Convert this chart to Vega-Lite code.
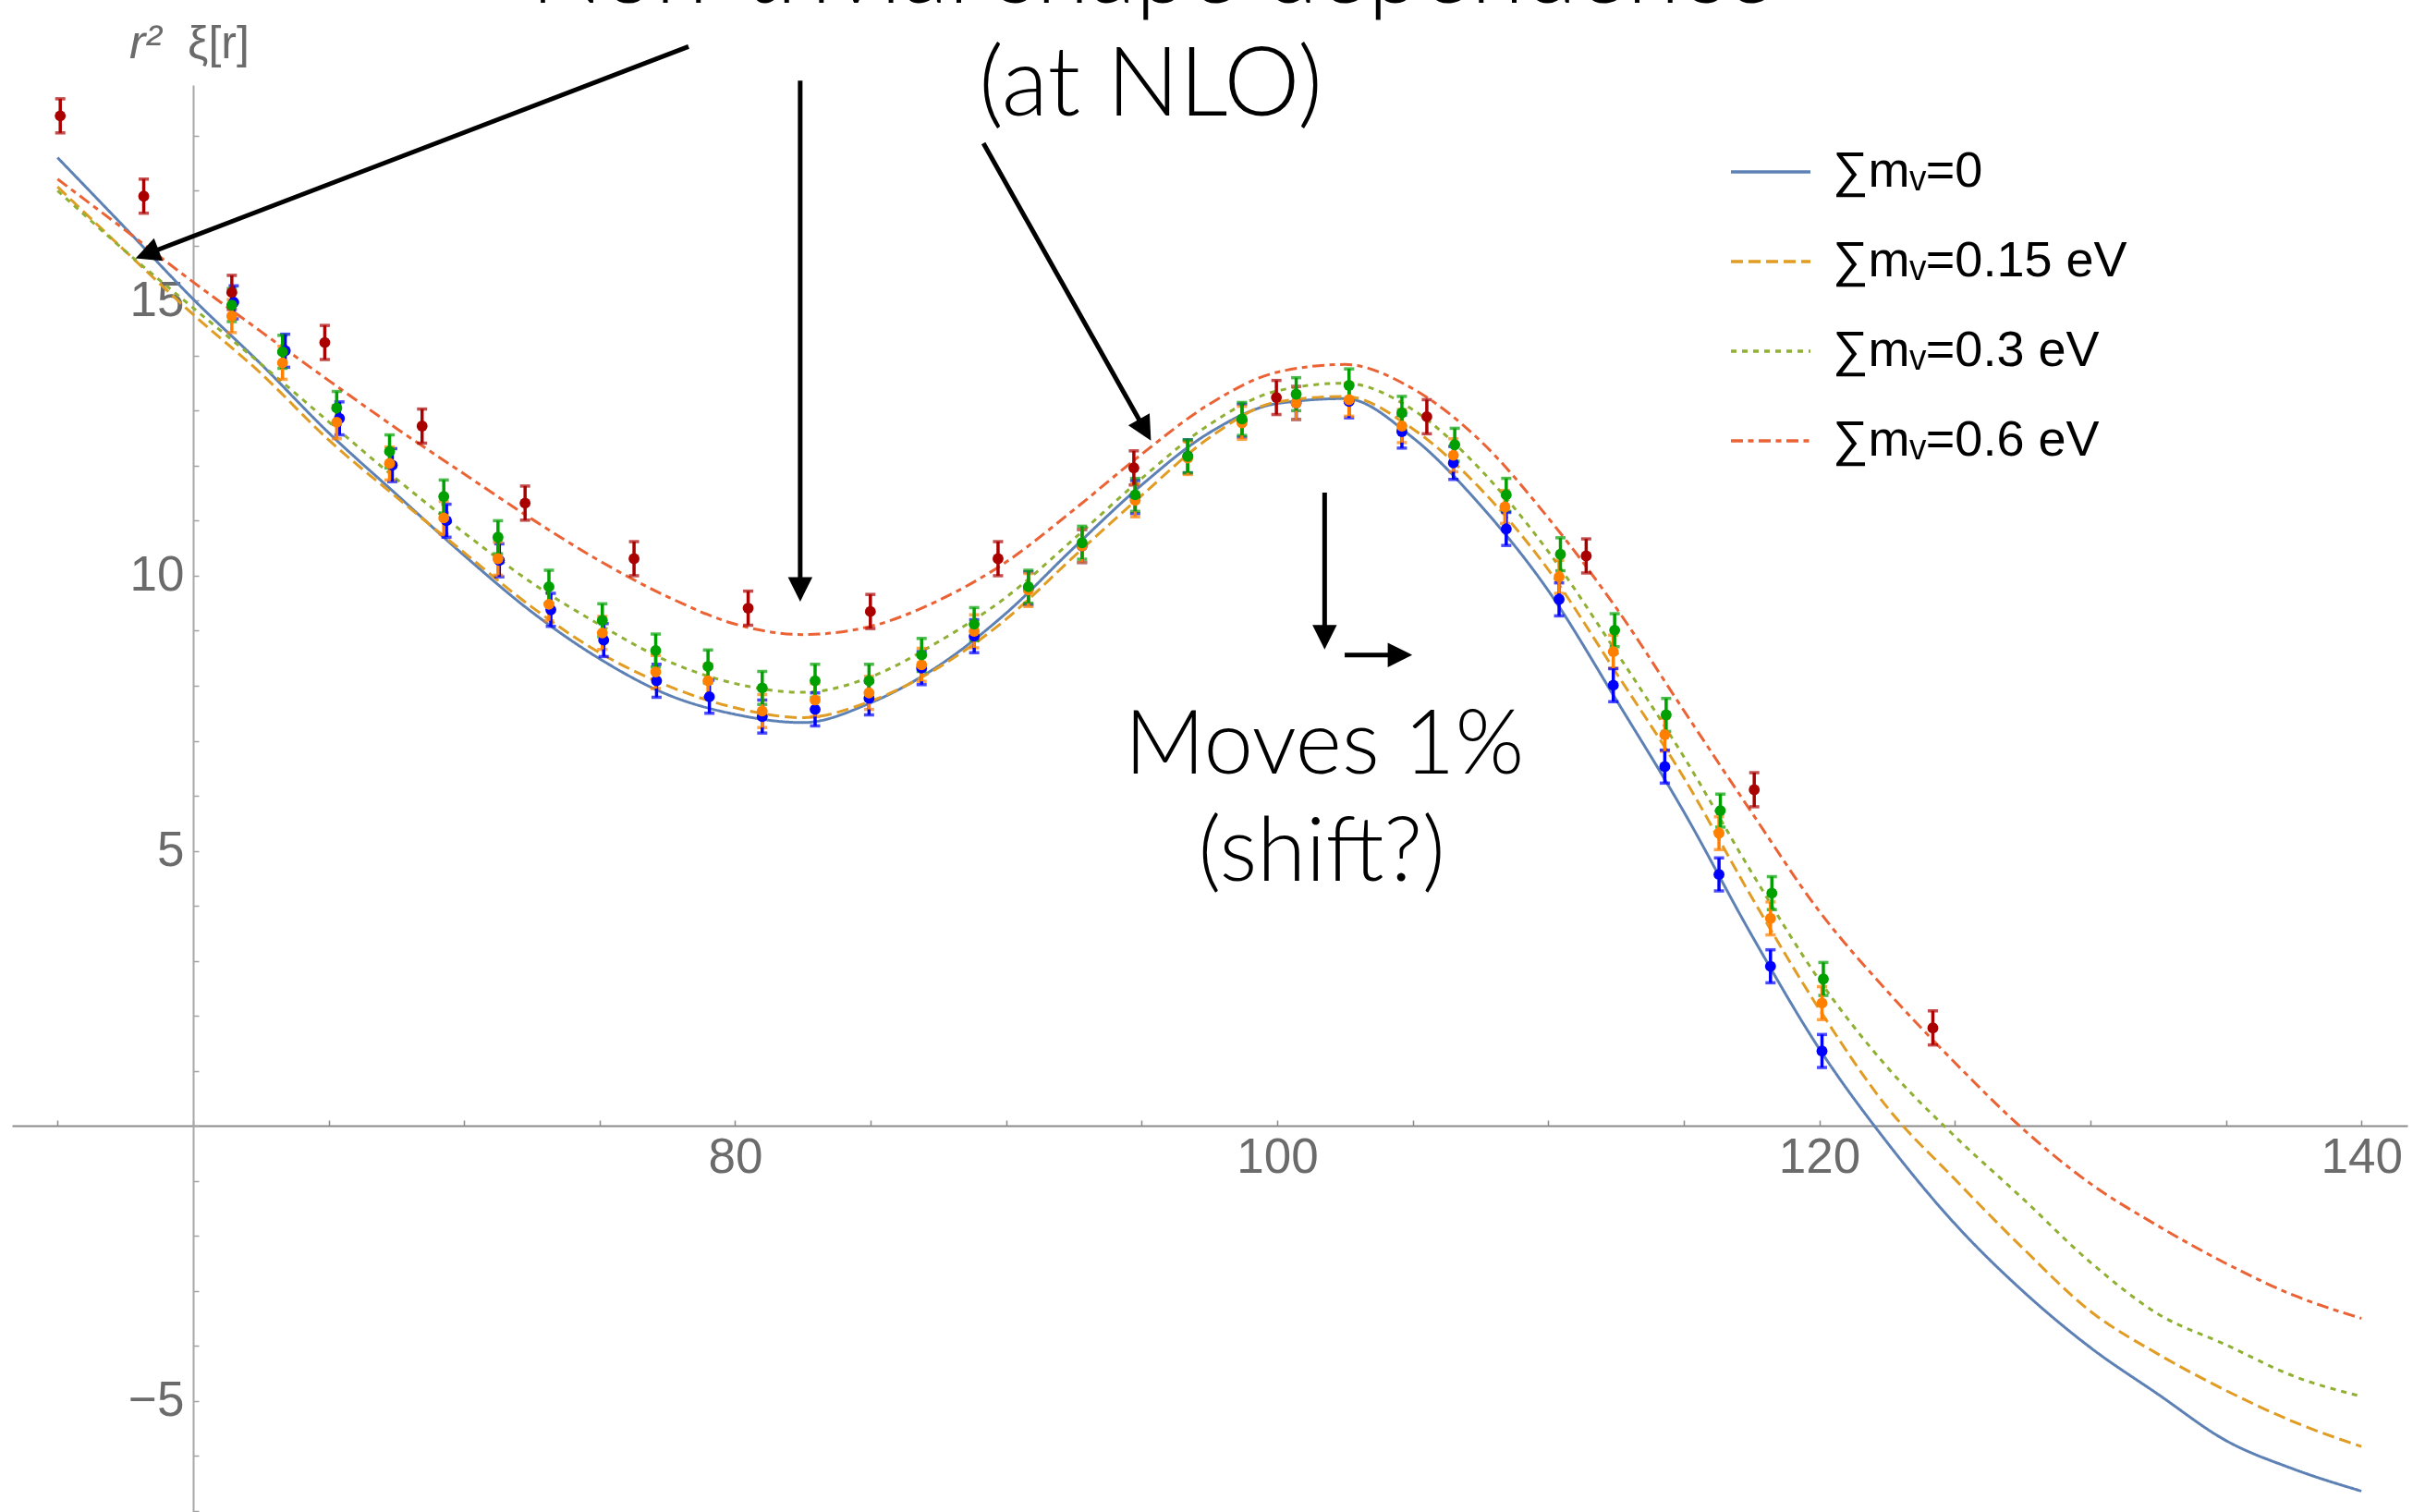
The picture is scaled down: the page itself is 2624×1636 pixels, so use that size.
{
  "$schema": "https://vega.github.io/schema/vega-lite/v6.json",
  "width": 2592,
  "height": 1544,
  "autosize": {"type": "none"},
  "padding": {"left": 13, "top": 92, "right": 19, "bottom": 0},
  "background": "white",
  "config": {"view": {"stroke": null}, "font": "Liberation Sans"},
  "datasets": {
    "curves": [
      {"model": "∑mᵥ=0", "r": 55, "xi": 17.60}, {"model": "∑mᵥ=0", "r": 57.5, "xi": 16.32}, {"model": "∑mᵥ=0", "r": 60, "xi": 15.03}, {"model": "∑mᵥ=0", "r": 62.5, "xi": 13.85}, {"model": "∑mᵥ=0", "r": 65, "xi": 12.60}, {"model": "∑mᵥ=0", "r": 67.5, "xi": 11.48}, {"model": "∑mᵥ=0", "r": 70, "xi": 10.37}, {"model": "∑mᵥ=0", "r": 72.5, "xi": 9.34}, {"model": "∑mᵥ=0", "r": 75, "xi": 8.49}, {"model": "∑mᵥ=0", "r": 77.5, "xi": 7.84}, {"model": "∑mᵥ=0", "r": 80, "xi": 7.48}, {"model": "∑mᵥ=0", "r": 82.5, "xi": 7.33}, {"model": "∑mᵥ=0", "r": 85, "xi": 7.69}, {"model": "∑mᵥ=0", "r": 87.5, "xi": 8.36}, {"model": "∑mᵥ=0", "r": 90, "xi": 9.32}, {"model": "∑mᵥ=0", "r": 92.5, "xi": 10.51}, {"model": "∑mᵥ=0", "r": 95, "xi": 11.65}, {"model": "∑mᵥ=0", "r": 97.5, "xi": 12.60}, {"model": "∑mᵥ=0", "r": 100, "xi": 13.13}, {"model": "∑mᵥ=0", "r": 102.5, "xi": 13.22}, {"model": "∑mᵥ=0", "r": 105, "xi": 12.51}, {"model": "∑mᵥ=0", "r": 107.5, "xi": 11.28}, {"model": "∑mᵥ=0", "r": 110, "xi": 9.73}, {"model": "∑mᵥ=0", "r": 112.5, "xi": 7.75}, {"model": "∑mᵥ=0", "r": 115, "xi": 5.71}, {"model": "∑mᵥ=0", "r": 117.5, "xi": 3.47}, {"model": "∑mᵥ=0", "r": 120, "xi": 1.40}, {"model": "∑mᵥ=0", "r": 122.5, "xi": -0.30}, {"model": "∑mᵥ=0", "r": 125, "xi": -1.78}, {"model": "∑mᵥ=0", "r": 127.5, "xi": -3.00}, {"model": "∑mᵥ=0", "r": 130, "xi": -4.03}, {"model": "∑mᵥ=0", "r": 132.5, "xi": -4.88}, {"model": "∑mᵥ=0", "r": 135, "xi": -5.72}, {"model": "∑mᵥ=0", "r": 137.5, "xi": -6.24}, {"model": "∑mᵥ=0", "r": 140, "xi": -6.64},
      {"model": "∑mᵥ=0.15 eV", "r": 55, "xi": 17.07}, {"model": "∑mᵥ=0.15 eV", "r": 57.5, "xi": 15.90}, {"model": "∑mᵥ=0.15 eV", "r": 60, "xi": 14.75}, {"model": "∑mᵥ=0.15 eV", "r": 62.5, "xi": 13.68}, {"model": "∑mᵥ=0.15 eV", "r": 65, "xi": 12.47}, {"model": "∑mᵥ=0.15 eV", "r": 67.5, "xi": 11.43}, {"model": "∑mᵥ=0.15 eV", "r": 70, "xi": 10.42}, {"model": "∑mᵥ=0.15 eV", "r": 72.5, "xi": 9.43}, {"model": "∑mᵥ=0.15 eV", "r": 75, "xi": 8.60}, {"model": "∑mᵥ=0.15 eV", "r": 77.5, "xi": 8.00}, {"model": "∑mᵥ=0.15 eV", "r": 80, "xi": 7.60}, {"model": "∑mᵥ=0.15 eV", "r": 82.5, "xi": 7.42}, {"model": "∑mᵥ=0.15 eV", "r": 85, "xi": 7.72}, {"model": "∑mᵥ=0.15 eV", "r": 87.5, "xi": 8.33}, {"model": "∑mᵥ=0.15 eV", "r": 90, "xi": 9.21}, {"model": "∑mᵥ=0.15 eV", "r": 92.5, "xi": 10.35}, {"model": "∑mᵥ=0.15 eV", "r": 95, "xi": 11.46}, {"model": "∑mᵥ=0.15 eV", "r": 97.5, "xi": 12.51}, {"model": "∑mᵥ=0.15 eV", "r": 100, "xi": 13.16}, {"model": "∑mᵥ=0.15 eV", "r": 102.5, "xi": 13.26}, {"model": "∑mᵥ=0.15 eV", "r": 105, "xi": 12.67}, {"model": "∑mᵥ=0.15 eV", "r": 107.5, "xi": 11.58}, {"model": "∑mᵥ=0.15 eV", "r": 110, "xi": 10.11}, {"model": "∑mᵥ=0.15 eV", "r": 112.5, "xi": 8.24}, {"model": "∑mᵥ=0.15 eV", "r": 115, "xi": 6.33}, {"model": "∑mᵥ=0.15 eV", "r": 117.5, "xi": 4.16}, {"model": "∑mᵥ=0.15 eV", "r": 120, "xi": 2.12}, {"model": "∑mᵥ=0.15 eV", "r": 122.5, "xi": 0.34}, {"model": "∑mᵥ=0.15 eV", "r": 125, "xi": -0.97}, {"model": "∑mᵥ=0.15 eV", "r": 127.5, "xi": -2.22}, {"model": "∑mᵥ=0.15 eV", "r": 130, "xi": -3.37}, {"model": "∑mᵥ=0.15 eV", "r": 132.5, "xi": -4.15}, {"model": "∑mᵥ=0.15 eV", "r": 135, "xi": -4.81}, {"model": "∑mᵥ=0.15 eV", "r": 137.5, "xi": -5.38}, {"model": "∑mᵥ=0.15 eV", "r": 140, "xi": -5.83},
      {"model": "∑mᵥ=0.3 eV", "r": 55, "xi": 17.00}, {"model": "∑mᵥ=0.3 eV", "r": 57.5, "xi": 15.90}, {"model": "∑mᵥ=0.3 eV", "r": 60, "xi": 14.87}, {"model": "∑mᵥ=0.3 eV", "r": 62.5, "xi": 13.85}, {"model": "∑mᵥ=0.3 eV", "r": 65, "xi": 12.80}, {"model": "∑mᵥ=0.3 eV", "r": 67.5, "xi": 11.76}, {"model": "∑mᵥ=0.3 eV", "r": 70, "xi": 10.78}, {"model": "∑mᵥ=0.3 eV", "r": 72.5, "xi": 9.87}, {"model": "∑mᵥ=0.3 eV", "r": 75, "xi": 9.11}, {"model": "∑mᵥ=0.3 eV", "r": 77.5, "xi": 8.45}, {"model": "∑mᵥ=0.3 eV", "r": 80, "xi": 8.04}, {"model": "∑mᵥ=0.3 eV", "r": 82.5, "xi": 7.88}, {"model": "∑mᵥ=0.3 eV", "r": 85, "xi": 8.16}, {"model": "∑mᵥ=0.3 eV", "r": 87.5, "xi": 8.80}, {"model": "∑mᵥ=0.3 eV", "r": 90, "xi": 9.61}, {"model": "∑mᵥ=0.3 eV", "r": 92.5, "xi": 10.67}, {"model": "∑mᵥ=0.3 eV", "r": 95, "xi": 11.77}, {"model": "∑mᵥ=0.3 eV", "r": 97.5, "xi": 12.75}, {"model": "∑mᵥ=0.3 eV", "r": 100, "xi": 13.36}, {"model": "∑mᵥ=0.3 eV", "r": 102.5, "xi": 13.50}, {"model": "∑mᵥ=0.3 eV", "r": 105, "xi": 13.02}, {"model": "∑mᵥ=0.3 eV", "r": 107.5, "xi": 11.93}, {"model": "∑mᵥ=0.3 eV", "r": 110, "xi": 10.44}, {"model": "∑mᵥ=0.3 eV", "r": 112.5, "xi": 8.62}, {"model": "∑mᵥ=0.3 eV", "r": 115, "xi": 6.71}, {"model": "∑mᵥ=0.3 eV", "r": 117.5, "xi": 4.61}, {"model": "∑mᵥ=0.3 eV", "r": 120, "xi": 2.65}, {"model": "∑mᵥ=0.3 eV", "r": 122.5, "xi": 1.07}, {"model": "∑mᵥ=0.3 eV", "r": 125, "xi": -0.19}, {"model": "∑mᵥ=0.3 eV", "r": 127.5, "xi": -1.32}, {"model": "∑mᵥ=0.3 eV", "r": 130, "xi": -2.48}, {"model": "∑mᵥ=0.3 eV", "r": 132.5, "xi": -3.42}, {"model": "∑mᵥ=0.3 eV", "r": 135, "xi": -3.98}, {"model": "∑mᵥ=0.3 eV", "r": 137.5, "xi": -4.55}, {"model": "∑mᵥ=0.3 eV", "r": 140, "xi": -4.92},
      {"model": "∑mᵥ=0.6 eV", "r": 55, "xi": 17.21}, {"model": "∑mᵥ=0.6 eV", "r": 57.5, "xi": 16.28}, {"model": "∑mᵥ=0.6 eV", "r": 60, "xi": 15.34}, {"model": "∑mᵥ=0.6 eV", "r": 62.5, "xi": 14.44}, {"model": "∑mᵥ=0.6 eV", "r": 65, "xi": 13.55}, {"model": "∑mᵥ=0.6 eV", "r": 67.5, "xi": 12.68}, {"model": "∑mᵥ=0.6 eV", "r": 70, "xi": 11.85}, {"model": "∑mᵥ=0.6 eV", "r": 72.5, "xi": 11.03}, {"model": "∑mᵥ=0.6 eV", "r": 75, "xi": 10.27}, {"model": "∑mᵥ=0.6 eV", "r": 77.5, "xi": 9.62}, {"model": "∑mᵥ=0.6 eV", "r": 80, "xi": 9.12}, {"model": "∑mᵥ=0.6 eV", "r": 82.5, "xi": 8.93}, {"model": "∑mᵥ=0.6 eV", "r": 85, "xi": 9.08}, {"model": "∑mᵥ=0.6 eV", "r": 87.5, "xi": 9.55}, {"model": "∑mᵥ=0.6 eV", "r": 90, "xi": 10.25}, {"model": "∑mᵥ=0.6 eV", "r": 92.5, "xi": 11.20}, {"model": "∑mᵥ=0.6 eV", "r": 95, "xi": 12.21}, {"model": "∑mᵥ=0.6 eV", "r": 97.5, "xi": 13.12}, {"model": "∑mᵥ=0.6 eV", "r": 100, "xi": 13.70}, {"model": "∑mᵥ=0.6 eV", "r": 102.5, "xi": 13.84}, {"model": "∑mᵥ=0.6 eV", "r": 105, "xi": 13.40}, {"model": "∑mᵥ=0.6 eV", "r": 107.5, "xi": 12.45}, {"model": "∑mᵥ=0.6 eV", "r": 110, "xi": 11.05}, {"model": "∑mᵥ=0.6 eV", "r": 112.5, "xi": 9.42}, {"model": "∑mᵥ=0.6 eV", "r": 115, "xi": 7.55}, {"model": "∑mᵥ=0.6 eV", "r": 117.5, "xi": 5.70}, {"model": "∑mᵥ=0.6 eV", "r": 120, "xi": 3.90}, {"model": "∑mᵥ=0.6 eV", "r": 122.5, "xi": 2.45}, {"model": "∑mᵥ=0.6 eV", "r": 125, "xi": 1.15}, {"model": "∑mᵥ=0.6 eV", "r": 127.5, "xi": -0.05}, {"model": "∑mᵥ=0.6 eV", "r": 130, "xi": -1.05}, {"model": "∑mᵥ=0.6 eV", "r": 132.5, "xi": -1.82}, {"model": "∑mᵥ=0.6 eV", "r": 135, "xi": -2.50}, {"model": "∑mᵥ=0.6 eV", "r": 137.5, "xi": -3.08}, {"model": "∑mᵥ=0.6 eV", "r": 140, "xi": -3.50}
    ],
    "points": [
      {"model": "m0", "r": 61.5, "xi": 14.97, "err": 0.3}, {"model": "m0", "r": 63.4, "xi": 14.09, "err": 0.3}, {"model": "m0", "r": 65.4, "xi": 12.86, "err": 0.3}, {"model": "m0", "r": 67.35, "xi": 12.01, "err": 0.3}, {"model": "m0", "r": 69.35, "xi": 11.0, "err": 0.3}, {"model": "m0", "r": 71.3, "xi": 10.28, "err": 0.3}, {"model": "m0", "r": 73.2, "xi": 9.38, "err": 0.3}, {"model": "m0", "r": 75.15, "xi": 8.83, "err": 0.3}, {"model": "m0", "r": 77.1, "xi": 8.09, "err": 0.3}, {"model": "m0", "r": 79.05, "xi": 7.80, "err": 0.3}, {"model": "m0", "r": 81.0, "xi": 7.44, "err": 0.3}, {"model": "m0", "r": 82.95, "xi": 7.57, "err": 0.3}, {"model": "m0", "r": 84.94, "xi": 7.77, "err": 0.3}, {"model": "m0", "r": 86.88, "xi": 8.32, "err": 0.3}, {"model": "m0", "r": 88.82, "xi": 8.90, "err": 0.3}, {"model": "m0", "r": 90.82, "xi": 9.77, "err": 0.3}, {"model": "m0", "r": 92.8, "xi": 10.54, "err": 0.3}, {"model": "m0", "r": 94.76, "xi": 11.43, "err": 0.3}, {"model": "m0", "r": 96.7, "xi": 12.17, "err": 0.3}, {"model": "m0", "r": 98.7, "xi": 12.82, "err": 0.3}, {"model": "m0", "r": 100.7, "xi": 13.14, "err": 0.3}, {"model": "m0", "r": 102.65, "xi": 13.17, "err": 0.3}, {"model": "m0", "r": 104.6, "xi": 12.62, "err": 0.3}, {"model": "m0", "r": 106.5, "xi": 12.05, "err": 0.3}, {"model": "m0", "r": 108.45, "xi": 10.85, "err": 0.3}, {"model": "m0", "r": 110.4, "xi": 9.57, "err": 0.3}, {"model": "m0", "r": 112.4, "xi": 8.01, "err": 0.3}, {"model": "m0", "r": 114.3, "xi": 6.53, "err": 0.3}, {"model": "m0", "r": 116.3, "xi": 4.57, "err": 0.3}, {"model": "m0", "r": 118.2, "xi": 2.90, "err": 0.3}, {"model": "m0", "r": 120.1, "xi": 1.36, "err": 0.3},
      {"model": "m015", "r": 61.43, "xi": 14.72, "err": 0.3}, {"model": "m015", "r": 63.3, "xi": 13.87, "err": 0.3}, {"model": "m015", "r": 65.3, "xi": 12.79, "err": 0.3}, {"model": "m015", "r": 67.25, "xi": 12.04, "err": 0.3}, {"model": "m015", "r": 69.25, "xi": 11.05, "err": 0.3}, {"model": "m015", "r": 71.25, "xi": 10.31, "err": 0.3}, {"model": "m015", "r": 73.13, "xi": 9.48, "err": 0.3}, {"model": "m015", "r": 75.1, "xi": 8.96, "err": 0.3}, {"model": "m015", "r": 77.07, "xi": 8.25, "err": 0.3}, {"model": "m015", "r": 79.0, "xi": 8.09, "err": 0.3}, {"model": "m015", "r": 81.0, "xi": 7.54, "err": 0.3}, {"model": "m015", "r": 82.95, "xi": 7.74, "err": 0.3}, {"model": "m015", "r": 84.94, "xi": 7.87, "err": 0.3}, {"model": "m015", "r": 86.88, "xi": 8.38, "err": 0.3}, {"model": "m015", "r": 88.82, "xi": 8.99, "err": 0.3}, {"model": "m015", "r": 90.82, "xi": 9.74, "err": 0.3}, {"model": "m015", "r": 92.8, "xi": 10.54, "err": 0.3}, {"model": "m015", "r": 94.76, "xi": 11.37, "err": 0.3}, {"model": "m015", "r": 96.7, "xi": 12.14, "err": 0.3}, {"model": "m015", "r": 98.7, "xi": 12.78, "err": 0.3}, {"model": "m015", "r": 100.7, "xi": 13.14, "err": 0.3}, {"model": "m015", "r": 102.65, "xi": 13.20, "err": 0.3}, {"model": "m015", "r": 104.6, "xi": 12.72, "err": 0.3}, {"model": "m015", "r": 106.5, "xi": 12.19, "err": 0.3}, {"model": "m015", "r": 108.4, "xi": 11.25, "err": 0.3}, {"model": "m015", "r": 110.4, "xi": 9.98, "err": 0.3}, {"model": "m015", "r": 112.4, "xi": 8.62, "err": 0.3}, {"model": "m015", "r": 114.3, "xi": 7.11, "err": 0.3}, {"model": "m015", "r": 116.3, "xi": 5.32, "err": 0.3}, {"model": "m015", "r": 118.2, "xi": 3.77, "err": 0.3}, {"model": "m015", "r": 120.1, "xi": 2.23, "err": 0.3},
      {"model": "m03", "r": 61.43, "xi": 14.92, "err": 0.3}, {"model": "m03", "r": 63.3, "xi": 14.07, "err": 0.3}, {"model": "m03", "r": 65.3, "xi": 13.05, "err": 0.3}, {"model": "m03", "r": 67.25, "xi": 12.26, "err": 0.3}, {"model": "m03", "r": 69.25, "xi": 11.44, "err": 0.3}, {"model": "m03", "r": 71.25, "xi": 10.70, "err": 0.3}, {"model": "m03", "r": 73.13, "xi": 9.80, "err": 0.3}, {"model": "m03", "r": 75.1, "xi": 9.19, "err": 0.3}, {"model": "m03", "r": 77.07, "xi": 8.64, "err": 0.3}, {"model": "m03", "r": 79.0, "xi": 8.35, "err": 0.3}, {"model": "m03", "r": 81.0, "xi": 7.96, "err": 0.3}, {"model": "m03", "r": 82.95, "xi": 8.09, "err": 0.3}, {"model": "m03", "r": 84.94, "xi": 8.09, "err": 0.3}, {"model": "m03", "r": 86.88, "xi": 8.56, "err": 0.3}, {"model": "m03", "r": 88.82, "xi": 9.12, "err": 0.3}, {"model": "m03", "r": 90.82, "xi": 9.80, "err": 0.3}, {"model": "m03", "r": 92.8, "xi": 10.60, "err": 0.3}, {"model": "m03", "r": 94.76, "xi": 11.47, "err": 0.3}, {"model": "m03", "r": 96.7, "xi": 12.17, "err": 0.3}, {"model": "m03", "r": 98.7, "xi": 12.85, "err": 0.3}, {"model": "m03", "r": 100.7, "xi": 13.30, "err": 0.3}, {"model": "m03", "r": 102.65, "xi": 13.46, "err": 0.3}, {"model": "m03", "r": 104.6, "xi": 12.96, "err": 0.3}, {"model": "m03", "r": 106.55, "xi": 12.38, "err": 0.3}, {"model": "m03", "r": 108.45, "xi": 11.47, "err": 0.3}, {"model": "m03", "r": 110.45, "xi": 10.39, "err": 0.3}, {"model": "m03", "r": 112.45, "xi": 9.01, "err": 0.3}, {"model": "m03", "r": 114.35, "xi": 7.47, "err": 0.3}, {"model": "m03", "r": 116.35, "xi": 5.73, "err": 0.3}, {"model": "m03", "r": 118.25, "xi": 4.23, "err": 0.3}, {"model": "m03", "r": 120.15, "xi": 2.67, "err": 0.3},
      {"model": "m06", "r": 55.1, "xi": 18.36, "err": 0.31}, {"model": "m06", "r": 58.18, "xi": 16.90, "err": 0.31}, {"model": "m06", "r": 61.43, "xi": 15.15, "err": 0.31}, {"model": "m06", "r": 64.86, "xi": 14.24, "err": 0.31}, {"model": "m06", "r": 68.45, "xi": 12.72, "err": 0.31}, {"model": "m06", "r": 72.25, "xi": 11.32, "err": 0.31}, {"model": "m06", "r": 76.27, "xi": 10.31, "err": 0.31}, {"model": "m06", "r": 80.48, "xi": 9.41, "err": 0.31}, {"model": "m06", "r": 84.99, "xi": 9.35, "err": 0.31}, {"model": "m06", "r": 89.7, "xi": 10.31, "err": 0.31}, {"model": "m06", "r": 94.71, "xi": 11.96, "err": 0.31}, {"model": "m06", "r": 99.97, "xi": 13.24, "err": 0.31}, {"model": "m06", "r": 105.52, "xi": 12.89, "err": 0.31}, {"model": "m06", "r": 111.4, "xi": 10.36, "err": 0.31}, {"model": "m06", "r": 117.6, "xi": 6.11, "err": 0.31}, {"model": "m06", "r": 124.19, "xi": 1.78, "err": 0.31}
    ],
    "arrows": [
      {"r1": 78.28, "y1": 19.62, "r2": 58.30, "y2": 15.85, "angle": 249},
      {"r1": 82.40, "y1": 19.0, "r2": 82.40, "y2": 9.75, "angle": 180},
      {"r1": 89.16, "y1": 17.86, "r2": 95.12, "y2": 12.65, "angle": 150.6},
      {"r1": 101.75, "y1": 11.51, "r2": 101.75, "y2": 8.88, "angle": 180},
      {"r1": 102.49, "y1": 8.56, "r2": 104.53, "y2": 8.56, "angle": 90}
    ],
    "headline": [
      {"text": "Non-trivial shape dependence", "r": 95.4, "y": 20.42},
      {"text": "(at NLO)", "r": 95.33, "y": 18.36}
    ],
    "note": [
      {"text": "Moves 1%", "r": 101.74, "y": 6.40},
      {"text": "(shift?)", "r": 101.64, "y": 4.45}
    ],
    "ytitleA": [{"text": "r²", "r": 57.65, "y": 19.40}],
    "ytitleB": [{"text": "ξ[r]", "r": 59.80, "y": 19.40}]
  },
  "layer": [
    {
      "data": {"name": "curves"},
      "mark": {"type": "line", "strokeWidth": 3, "interpolate": "monotone"},
      "encoding": {
        "x": {
          "field": "r", "type": "quantitative",
          "scale": {"domain": [53.32, 141.7], "nice": false, "zero": false},
          "axis": {
            "title": null, "orient": "bottom", "offset": -418, "grid": false,
            "values": [55, 60, 65, 70, 75, 80, 85, 90, 95, 100, 105, 110, 115, 120, 125, 130, 135, 140],
            "format": "d",
            "labelExpr": "(datum.value % 20 == 0 && datum.value != 60) ? datum.label : ''",
            "labelOverlap": false, "labelFlush": false,
            "tickSize": -6, "tickWidth": 1.5, "tickColor": "#8a8a8a",
            "domainColor": "#8a8a8a", "domainWidth": 2,
            "labelFont": "Liberation Sans", "labelFontSize": 53, "labelColor": "#6b6b6b",
            "labelPadding": 14, "labelBaseline": "top"
          }
        },
        "y": {
          "field": "xi", "type": "quantitative",
          "scale": {"domain": [-7.02, 18.92], "nice": false, "zero": false},
          "axis": {
            "title": null, "orient": "left", "offset": -196, "grid": false,
            "values": [-7, -6, -5, -4, -3, -2, -1, 0, 1, 2, 3, 4, 5, 6, 7, 8, 9, 10, 11, 12, 13, 14, 15, 16, 17, 18],
            "format": "d",
            "labelExpr": "(datum.value % 5 == 0 && datum.value != 0) ? datum.label : ''",
            "labelOverlap": false, "labelFlush": false,
            "tickSize": -6, "tickWidth": 1.5, "tickColor": "#a0a0a0",
            "domainColor": "#a8a8a8", "domainWidth": 2,
            "labelFont": "Liberation Sans", "labelFontSize": 53, "labelColor": "#6b6b6b",
            "labelPadding": 16
          }
        },
        "stroke": {
          "field": "model", "type": "nominal",
          "scale": {"domain": ["∑mᵥ=0", "∑mᵥ=0.15 eV", "∑mᵥ=0.3 eV", "∑mᵥ=0.6 eV"], "range": ["#5E81B5", "#E19C24", "#8FB032", "#EB6235"]},
          "legend": {
            "title": null, "orient": "none", "legendX": 1858, "legendY": 49,
            "symbolType": "stroke", "symbolSize": 7400, "symbolStrokeWidth": 3.5,
            "labelFont": "Liberation Sans", "labelFontSize": 54, "labelColor": "black",
            "labelOffset": 22, "rowPadding": 25, "padding": 0, "labelLimit": 600
          }
        },
        "strokeDash": {
          "field": "model", "type": "nominal",
          "scale": {"domain": ["∑mᵥ=0", "∑mᵥ=0.15 eV", "∑mᵥ=0.3 eV", "∑mᵥ=0.6 eV"], "range": [[1, 0], [13, 6], [6, 6], [13, 5.5, 6, 5.5]]},
          "legend": {
            "title": null, "orient": "none", "legendX": 1858, "legendY": 49,
            "symbolType": "stroke", "symbolSize": 7400, "symbolStrokeWidth": 3.5,
            "labelFont": "Liberation Sans", "labelFontSize": 54, "labelColor": "black",
            "labelOffset": 22, "rowPadding": 25, "padding": 0, "labelLimit": 600
          }
        }
      }
    },
    {
      "data": {"name": "points"},
      "mark": {"type": "errorbar", "ticks": {"size": 11, "thickness": 3.5}, "thickness": 3.5},
      "encoding": {
        "x": {"field": "r", "type": "quantitative"},
        "y": {"field": "xi", "type": "quantitative"},
        "yError": {"field": "err"},
        "color": {
          "field": "model", "type": "nominal",
          "scale": {"domain": ["m0", "m015", "m03", "m06"], "range": ["#0000FF", "#FF8000", "#00A000", "#AA0000"]},
          "legend": null
        }
      }
    },
    {
      "data": {"name": "points"},
      "mark": {"type": "point", "filled": true, "opacity": 1, "size": 140, "shape": "circle"},
      "encoding": {
        "x": {"field": "r", "type": "quantitative"},
        "y": {"field": "xi", "type": "quantitative"},
        "color": {
          "field": "model", "type": "nominal",
          "scale": {"domain": ["m0", "m015", "m03", "m06"], "range": ["#0000FF", "#FF8000", "#00A000", "#AA0000"]},
          "legend": null
        }
      }
    },
    {
      "data": {"name": "arrows"},
      "mark": {"type": "rule", "color": "black", "strokeWidth": 5, "strokeCap": "butt"},
      "encoding": {
        "x": {"field": "r1", "type": "quantitative"},
        "y": {"field": "y1", "type": "quantitative"},
        "x2": {"field": "r2"},
        "y2": {"field": "y2"}
      }
    },
    {
      "data": {"name": "arrows"},
      "mark": {"type": "point", "shape": "M0,-1L-1,1L1,1Z", "filled": true, "color": "black", "opacity": 1, "size": 700},
      "encoding": {
        "x": {"field": "r2", "type": "quantitative"},
        "y": {"field": "y2", "type": "quantitative"},
        "angle": {"field": "angle", "type": "quantitative", "scale": null}
      }
    },
    {
      "data": {"name": "headline"},
      "mark": {"type": "text", "font": "Lato", "fontWeight": 300, "fontSize": 104, "align": "center", "baseline": "alphabetic", "color": "black"},
      "encoding": {
        "x": {"field": "r", "type": "quantitative"},
        "y": {"field": "y", "type": "quantitative"},
        "text": {"field": "text"}
      }
    },
    {
      "data": {"name": "note"},
      "mark": {"type": "text", "font": "Lato", "fontWeight": 300, "fontSize": 96, "align": "center", "baseline": "alphabetic", "color": "black"},
      "encoding": {
        "x": {"field": "r", "type": "quantitative"},
        "y": {"field": "y", "type": "quantitative"},
        "text": {"field": "text"}
      }
    },
    {
      "data": {"name": "ytitleA"},
      "mark": {"type": "text", "font": "Liberation Sans", "fontStyle": "italic", "fontSize": 52, "align": "left", "baseline": "alphabetic", "color": "#6b6b6b"},
      "encoding": {
        "x": {"field": "r", "type": "quantitative"},
        "y": {"field": "y", "type": "quantitative"},
        "text": {"field": "text"}
      }
    },
    {
      "data": {"name": "ytitleB"},
      "mark": {"type": "text", "font": "Liberation Sans", "fontSize": 50, "align": "left", "baseline": "alphabetic", "color": "#6b6b6b"},
      "encoding": {
        "x": {"field": "r", "type": "quantitative"},
        "y": {"field": "y", "type": "quantitative"},
        "text": {"field": "text"}
      }
    }
  ]
}
